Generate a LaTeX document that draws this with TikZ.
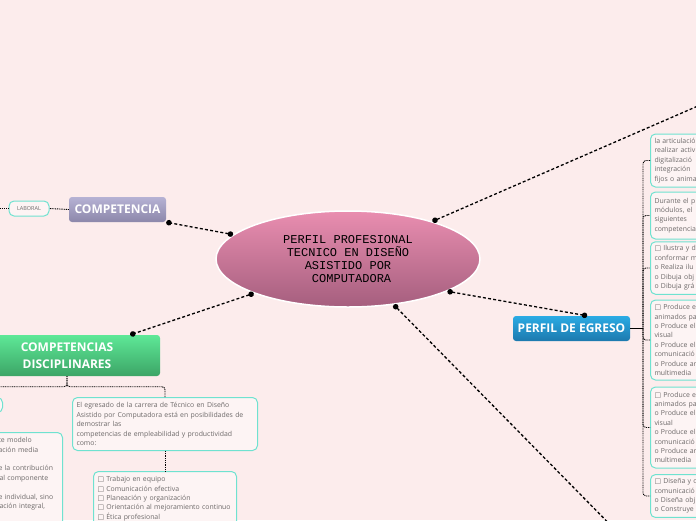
\documentclass[tikz,border=0pt]{standalone}
\usepackage{fontspec}
\setmainfont{Open Sans}
\newfontfamily\monofont{Liberation Mono}
\newfontfamily\symfont{DejaVu Sans}
\usepackage{tikz}
\usetikzlibrary{arrows.meta,positioning,shapes.geometric}
\definecolor{canvas}{HTML}{FCECEC}
\definecolor{leafline}{HTML}{6FE2D0}
\definecolor{leafgrey}{HTML}{6E6A6A}
\definecolor{rosetop}{HTML}{E98EB0}
\definecolor{rosebot}{HTML}{A55E7E}
\definecolor{lilactop}{HTML}{B6B2D4}
\definecolor{lilacbot}{HTML}{8C87AA}
\definecolor{greentop}{HTML}{5EE897}
\definecolor{greenbot}{HTML}{3CA566}
\definecolor{bluetop}{HTML}{2BABE4}
\definecolor{bluebot}{HTML}{1C79AE}
\newcommand{\bx}{{\symfont\char"25A1}}
\tikzset{
  topicbox/.style 2 args={
    rectangle, rounded corners=3pt, top color=#1, bottom color=#2,
    text=white, font=\fontsize{12}{17}\selectfont\bfseries,
    align=center, inner sep=0pt
  },
  leafbox/.style={
    rectangle, rounded corners=5pt, draw=leafline, line width=1pt,
    fill=canvas!60!white, text=leafgrey,
    font=\fontsize{6.9}{9.4}\selectfont, align=left,
    inner xsep=4pt, inner ysep=4pt
  },
  link/.style={
    line width=1.3pt, dash pattern=on 3pt off 2.2pt
  },
  linkdots/.style={
    link, {Circle[length=5.5pt]}-{Circle[length=5.5pt]}
  },
  branch/.style={
    line width=0.9pt, dash pattern=on 1pt off 0.8pt, rounded corners=3pt
  },
}
\begin{document}
\begin{tikzpicture}[x=1pt, y=-1pt]
  \useasboundingbox (0,0) rectangle (696,520);
  \fill[canvas] (0,0) rectangle (696,520);
  \clip (0,0) rectangle (696,520);

  % central topic
  \node[ellipse, minimum width=264pt, minimum height=96pt, inner sep=0pt,
    top color=rosetop, bottom color=rosebot, draw=white, line width=1.5pt,
    font=\monofont\fontsize{12}{13}\selectfont, align=center] (ctr) at (348,259)
    {PERFIL PROFESIONAL\\TECNICO EN DISEÑO\\ASISTIDO POR\\\hspace*{0.6em}COMPUTADORA};

  % main topics
  \node[topicbox={lilactop}{lilacbot}, minimum width=97pt, minimum height=25pt]
    (comp) at (117.5,209.5) {COMPETENCIA};
  \node[topicbox={greentop}{greenbot}, minimum width=186pt, minimum height=41pt]
    (disc) at (67,355.5) {COMPETENCIAS\\DISCIPLINARES};
  \node[topicbox={bluetop}{bluebot}, minimum width=117pt, minimum height=25pt]
    (egreso) at (571.5,328.5) {PERFIL DE EGRESO};

  \coordinate (upout) at (760,79);
  \coordinate (downout) at (640,555);

  \draw[linkdots] (ctr.168) -- (comp.south east);
  \draw[linkdots] (ctr.200) -- ([xshift=-30pt]disc.north east);
  \draw[linkdots] (ctr.-18) -- ([xshift=-43pt]egreso.north east);
  \draw[link, {Circle[length=5.5pt]}-] (ctr.24) -- (upout);
  \draw[link, {Circle[length=5.5pt]}-] (ctr.-45) -- (downout);

  % COMPETENCIA
  \node[leafbox, font=\fontsize{5.5}{7}\selectfont, inner xsep=3pt, inner ysep=0pt,
    minimum width=40pt, minimum height=15pt, align=center] (lab) at (29,208.5) {LABORAL};
  \coordinate (labin) at (-20,208.5);
  \draw[branch] (comp.west) -- (lab.east);
  \draw[branch] (lab.west) -- (labin);

  % COMPETENCIAS DISCIPLINARES
  \node[leafbox, minimum width=60pt, minimum height=15pt, anchor=north east]
    (lsmall) at (3,397) {};
  \node[leafbox, anchor=north east, text width=60pt, inner ysep=5pt]
    (lbig) at (63,432)
    {te modelo\\ación media\\[9.4pt]
     e la contribución\\\mbox{\hspace*{1pt}al componente}\\[9.4pt]
     e individual, sino\\\hspace*{1pt}ación integral,\\[20pt]\mbox{}};
  \node[leafbox, anchor=north west, text width=177pt, minimum height=53pt]
    (egr) at (72,397)
    {El egresado de la carrera de Técnico en Diseño\\
     Asistido por Computadora está en posibilidades de\\
     demostrar las\\
     competencias de empleabilidad y productividad\\
     como:};
  \node[leafbox, below=20pt of egr, text width=135pt, inner ysep=5pt] (trab)
    {\bx\ Trabajo en equipo\\
     \bx\ Comunicación efectiva\\
     \bx\ Planeación y organización\\
     \bx\ Orientación al mejoramiento continuo\\
     \bx\ Ética profesional};

  \draw[branch] (disc.south) -- ++(0,10.5) -| (lsmall.north);
  \draw[branch] (disc.south) -- ++(0,10.5) -| (egr.north);
  \draw[branch] (egr.south) -- (trab.north);

  % PERFIL DE EGRESO
  \node[leafbox, anchor=west, text width=72pt, minimum height=53pt] (ra) at (650,160.5)
    {la articulació\\realizar activ\\digitalizació\\integración\\fijos o anima};
  \node[leafbox, anchor=west, text width=72pt, minimum height=47pt] (rb) at (650,215.5)
    {Durante el p\\módulos, el\\siguientes\\competencia};
  \node[leafbox, anchor=west, text width=72pt, minimum height=52pt] (rc) at (650,268)
    {\bx\ Ilustra y d\\conformar m\\o Realiza ilu\\o Dibuja obj\\o Dibuja grá};
  \node[leafbox, anchor=west, text width=72pt, minimum height=80pt] (rd) at (650,340)
    {\bx\ Produce el\\animados pa\\o Produce el\\visual\\o Produce el\\comunicació\\o Produce ar\\multimedia};
  \node[leafbox, anchor=west, text width=72pt, minimum height=81pt] (re) at (650,427.5)
    {\bx\ Produce el\\animados pa\\o Produce el\\visual\\o Produce el\\comunicació\\o Produce ar\\multimedia};
  \node[leafbox, anchor=west, text width=72pt, minimum height=42pt] (rf) at (650,496)
    {\bx\ Diseña y o\\comunicació\\o Diseña obj\\o Construye};

  \coordinate (spine) at (643,328.5);
  \draw[line width=1.2pt] (egreso.east) -- (spine);
  \foreach \leaf in {ra,rb,rc,rd,re,rf}
    \draw[branch] (spine) |- (\leaf.west);
\end{tikzpicture}
\end{document}
